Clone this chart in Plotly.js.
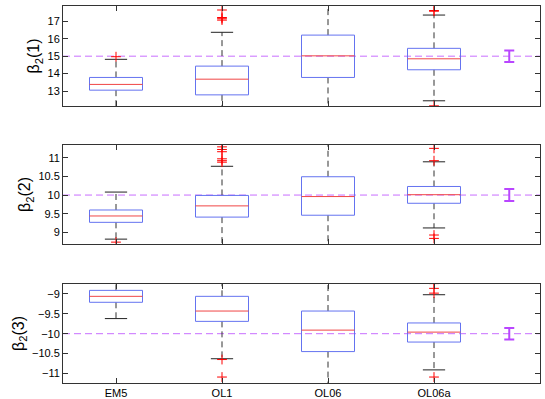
<!DOCTYPE html>
<html>
<head>
<meta charset="utf-8">
<script src="https://cdn.plot.ly/plotly-3.0.1.min.js"></script>
<style>body{margin:0;background:#fff}</style>
</head>
<body>
<div id="chart" style="width:545px;height:399px"></div>
<script>
// groups along x
var groups = ['EM5', 'OL1', 'OL06', 'OL06a'];

// panel 1: beta_2(1)
var q1_a  = [13.05, 12.78, 13.78, 14.22];
var med_a = [13.38, 13.68, 15.02, 14.85];
var q3_a  = [13.78, 14.43, 16.21, 15.45];
var lo_a  = [11.95, 10.3, 11.8, 12.44];
var hi_a  = [14.82, 16.37, 18.3, 17.36];
var out_a = [[14.97], [17.07, 17.15, 17.22, 17.65], [], [17.58, 17.62, 12.15]];

// panel 2: beta_2(2)
var q1_b  = [9.27, 9.41, 9.46, 9.78];
var med_b = [9.44, 9.71, 9.96, 10.01];
var q3_b  = [9.60, 9.99, 10.49, 10.23];
var lo_b  = [8.82, 8.5, 8.4, 9.12];
var hi_b  = [10.08, 10.77, 11.6, 10.89];
var out_b = [[8.74], [10.88, 10.92, 10.97, 11.16, 11.22, 11.29], [], [10.92, 11.25, 8.93, 8.84]];

// panel 3: beta_2(3)
var q1_c  = [-9.21, -9.69, -10.45, -10.21];
var med_c = [-9.06, -9.43, -9.91, -9.96];
var q3_c  = [-8.91, -9.06, -9.43, -9.73];
var lo_c  = [-9.62, -10.63, -11.5, -10.91];
var hi_c  = [-8.6, -8.6, -8.5, -9.02];
var out_c = [[], [-10.65, -11.09], [], [-8.74, -8.86, -8.98, -11.09]];

// true value and its interval (purple I-bar on the right)
var truth   = [15, 10, -10];
var errHalf = [0.33, 0.16, 0.145];
var errX = 4.71;

var halfW = 0.25, capW = 0.105;
var boxColor = 'rgb(100,115,240)';
var font = 'Liberation Sans, Arial, sans-serif';

function panel(q1, med, q3, lo, hi, out, ax, ref, eh) {
  var bx = [], by = [], mx = [], my = [], wx = [], wy = [], cx = [], cy = [], ox = [], oy = [];
  for (var i = 0; i < groups.length; i++) {
    var g = i + 1;
    bx.push(g - halfW, g + halfW, g + halfW, g - halfW, g - halfW, null);
    by.push(q1[i], q1[i], q3[i], q3[i], q1[i], null);
    mx.push(g - halfW, g + halfW, null);
    my.push(med[i], med[i], null);
    wx.push(g, g, null, g, g, null);
    wy.push(q3[i], hi[i], null, q1[i], lo[i], null);
    cx.push(g - capW, g + capW, null, g - capW, g + capW, null);
    cy.push(hi[i], hi[i], null, lo[i], lo[i], null);
    out[i].forEach(function (v) { ox.push(g); oy.push(v); });
  }
  var xa = 'x' + (ax === 1 ? '' : ax), ya = 'y' + (ax === 1 ? '' : ax);
  return [
    {x: [0.5, 5], y: [ref, ref], xaxis: xa, yaxis: ya, mode: 'lines',
      line: {color: 'rgb(200,110,255)', width: 1, dash: '7px,4px'}},
    {x: wx, y: wy, xaxis: xa, yaxis: ya, mode: 'lines',
      line: {color: '#333', width: 1, dash: '6px,4px'}},
    {x: cx, y: cy, xaxis: xa, yaxis: ya, mode: 'lines', line: {color: '#222', width: 1}},
    {x: bx, y: by, xaxis: xa, yaxis: ya, mode: 'lines', line: {color: boxColor, width: 1}},
    {x: mx, y: my, xaxis: xa, yaxis: ya, mode: 'lines', line: {color: 'rgb(240,70,70)', width: 1}},
    {x: ox, y: oy, xaxis: xa, yaxis: ya, mode: 'markers',
      marker: {symbol: 'cross-thin', size: 7, line: {color: 'red', width: 1}}},
    {x: [errX], y: [ref], xaxis: xa, yaxis: ya, mode: 'markers', marker: {size: 0.1, color: 'rgba(0,0,0,0)'},
      error_y: {type: 'data', array: [eh], color: 'rgb(185,70,255)', thickness: 2, width: 5}}
  ];
}

var data = [].concat(
  panel(q1_a, med_a, q3_a, lo_a, hi_a, out_a, 1, truth[0], errHalf[0]),
  panel(q1_b, med_b, q3_b, lo_b, hi_b, out_b, 2, truth[1], errHalf[1]),
  panel(q1_c, med_c, q3_c, lo_c, hi_c, out_c, 3, truth[2], errHalf[2])
);

function xax(anchor, labels) {
  return {
    anchor: anchor, range: [0.5, 5.0], tickvals: [1, 2, 3, 4], ticktext: groups,
    showticklabels: labels, ticks: 'inside', ticklen: 5, tickcolor: '#333',
    mirror: 'ticks', showline: true, linecolor: '#333', linewidth: 1,
    showgrid: false, zeroline: false, tickfont: {size: 11, family: font, color: '#000'}
  };
}
function yax(anchor, domain, range, tv, title) {
  return {
    anchor: anchor, domain: domain, range: range, tickvals: tv,
    ticks: 'inside', ticklen: 5, tickcolor: '#333', mirror: 'ticks',
    showline: true, linecolor: '#333', linewidth: 1, showgrid: false, zeroline: false,
    tickfont: {size: 11, family: font, color: '#000'},
    title: {text: title, font: {size: 16, family: font, color: '#000'}, standoff: 3}
  };
}

var layout = {
  width: 545, height: 399,
  margin: {l: 63, r: 5, t: 6, b: 16},
  showlegend: false,
  paper_bgcolor: '#fff', plot_bgcolor: '#fff',
  xaxis: xax('y', false),
  xaxis2: xax('y2', false),
  xaxis3: xax('y3', true),
  yaxis: yax('x', [0.7347, 1], [12.14, 17.88], [13, 14, 15, 16, 17], 'β<sub>2</sub>(1)'),
  yaxis2: yax('x2', [0.3687, 0.6313], [8.69, 11.34], [9, 9.5, 10, 10.5, 11], 'β<sub>2</sub>(2)'),
  yaxis3: yax('x3', [0, 0.2626], [-11.24, -8.75], [-11, -10.5, -10, -9.5, -9], 'β<sub>2</sub>(3)')
};

Plotly.newPlot('chart', data, layout, {displayModeBar: false, staticPlot: true});
</script>
</body>
</html>
